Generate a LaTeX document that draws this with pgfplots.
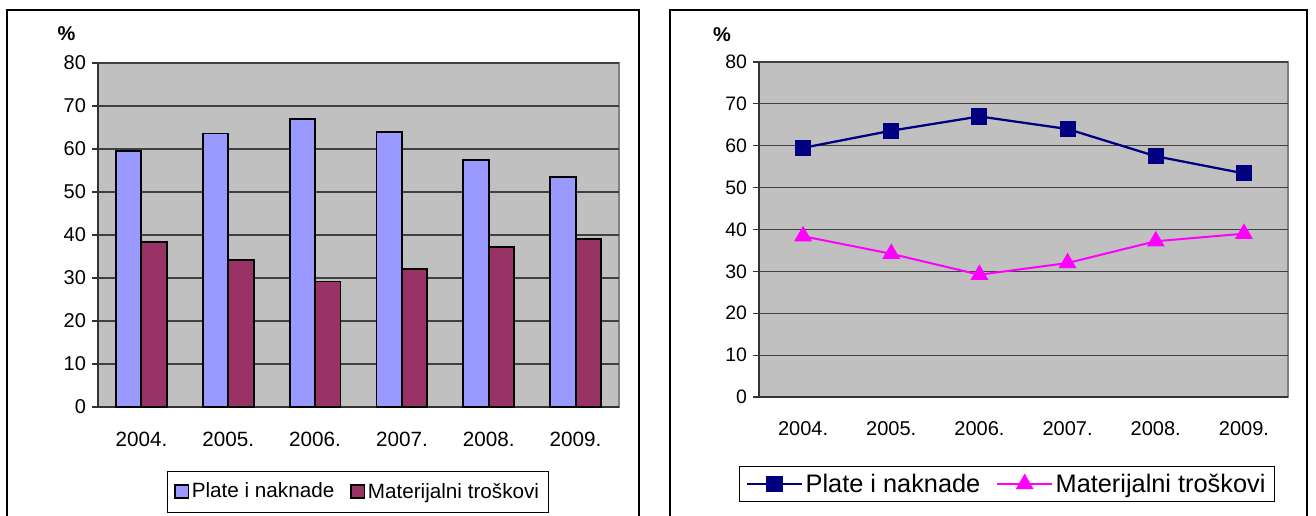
\documentclass[border=0pt]{standalone}
\usepackage{pgfplots}
\pgfplotsset{compat=1.18}
\usepackage{fontspec}
\setmainfont{Liberation Sans}
\definecolor{barblue}{HTML}{9999FF}
\definecolor{barmaroon}{HTML}{993366}
\definecolor{plotbg}{HTML}{C0C0C0}
\definecolor{navyc}{HTML}{000080}
\definecolor{magc}{HTML}{FF00FF}
\definecolor{gridc}{HTML}{404040}
\definecolor{borderc}{HTML}{808080}

\pgfplotstableread{
x plate mat
0 59.5 38.4
1 63.6 34.2
2 67.0 29.2
3 64.0 32.0
4 57.5 37.2
5 53.4 39.0
}\datatable

\pgfplotsset{
  excelaxis/.style={
    scale only axis,
    axis lines=left,
    axis line style={-, draw=black!80, line width=0.9pt},
    axis background/.style={fill=plotbg, draw=borderc, line width=1pt},
    xmin=-0.5, xmax=5.5,
    ymin=0, ymax=80,
    ytick={0,10,...,80},
    xtick={0,...,5},
    xticklabels={2004.,2005.,2006.,2007.,2008.,2009.},
    major x tick style={draw=none},
    extra x ticks={-0.5,0.5,...,5.5},
    extra x tick labels={},
    extra x tick style={major tick length=4.5pt, tick style={draw=black!80, line width=0.9pt}, grid=none},
    tick align=outside,
    major tick length=4.5pt,
    y tick style={draw=black!80, line width=0.9pt},
    ymajorgrids,
    grid style={draw=gridc, line width=0.9pt},
    /pgf/number format/assume math mode=true,
    clip=false,
  }
}

\begin{document}
\begin{tikzpicture}
\useasboundingbox (0pt,0pt) rectangle (987pt,-386.25pt);
% frames
\draw[black, line width=1pt] (5.25pt,-7.5pt) rectangle (479.25pt,-400pt);
\draw[black, line width=1pt] (502.5pt,-7.5pt) rectangle (980.25pt,-400pt);

% ---------- left bar chart ----------
\begin{axis}[excelaxis,
  at={(73.5pt,-305.25pt)}, anchor=south west,
  width=390.75pt, height=258pt,
  yticklabel style={font=\fontsize{15}{18}\selectfont, xshift=-1pt},
  xticklabel style={font=\fontsize{15.5}{18}\selectfont, yshift=-11pt},
  ybar=0pt, bar width=19.1pt,
  legend style={at={(0.499,-0.2456)}, anchor=center, draw=black, line width=0.6pt,
     font=\fontsize{15.5}{18}\selectfont, legend columns=2,
     inner xsep=5pt, inner ysep=7pt,
     /tikz/every even column/.append style={column sep=10pt}},
  legend image code/.code={\draw[#1, line width=1.2pt] (0pt,-5pt) rectangle (10pt,5pt);},
]
\addplot[fill=barblue, draw=black, line width=1.4pt] table[x=x,y=plate]{\datatable};
\addplot[fill=barmaroon, draw=black, line width=1.4pt] table[x=x,y=mat]{\datatable};
\legend{Plate i naknade, Materijalni troškovi}
\end{axis}
\node[font=\bfseries\fontsize{15}{18}\selectfont] at (49.9pt,-25.1pt) {\%};

% ---------- right line chart ----------
\begin{axis}[excelaxis,
  at={(569.25pt,-297.75pt)}, anchor=south west,
  width=396.75pt, height=251.25pt,
  yticklabel style={font=\fontsize{14.6}{18}\selectfont, xshift=-1pt},
  xticklabel style={font=\fontsize{15}{18}\selectfont, yshift=-10pt},
  legend style={at={(0.469,-0.2597)}, anchor=center, draw=black, line width=0.6pt,
     font=\fontsize{19}{22}\selectfont, legend columns=2,
     inner xsep=5pt, inner ysep=3.5pt,
     /tikz/every even column/.append style={column sep=10pt}},
  legend image code/.code={\draw[mark repeat=2,mark phase=2,#1] plot coordinates {(0pt,0pt) (20.5pt,0pt) (41pt,0pt)};},
]
\addplot[navyc, line width=1.7pt, mark=square*, mark size=5.2pt, mark options={solid}] table[x=x,y=plate]{\datatable};
\addplot[magc, line width=1.5pt, mark=triangle*, mark size=6.3pt, mark options={solid}] table[x=x,y=mat]{\datatable};
\legend{Plate i naknade, Materijalni troškovi}
\end{axis}
\node[font=\bfseries\fontsize{15}{18}\selectfont] at (541.5pt,-26.25pt) {\%};
\end{tikzpicture}
\end{document}
